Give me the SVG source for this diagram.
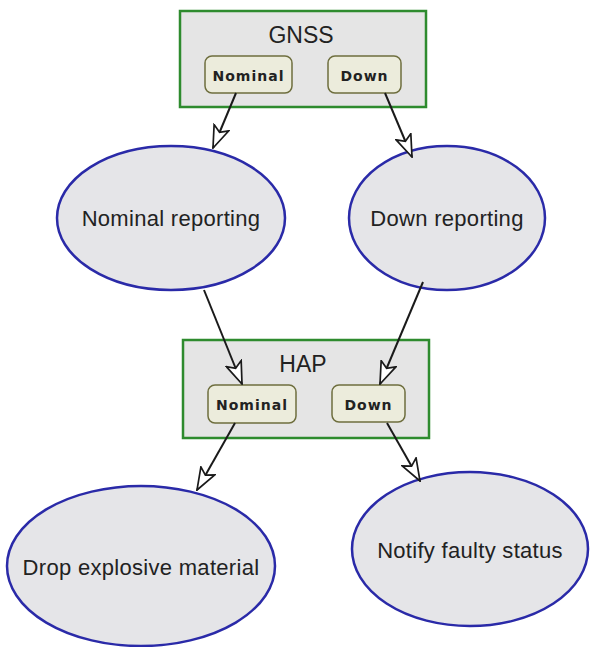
<svg xmlns="http://www.w3.org/2000/svg" width="595" height="647" viewBox="0 0 595 647">
<defs>
<style>
.comp{fill:#e5e5e5;stroke:#2e8b2e;stroke-width:2.5}
.port{fill:#ececdc;stroke:#6e6e3e;stroke-width:1.5}
.state{fill:#e5e5e8;stroke:#2a2aa8;stroke-width:2.5}
.title{font-family:"Liberation Sans",Arial,sans-serif;font-size:23px;fill:#222;text-anchor:middle}
.pl{font-family:"DejaVu Sans",sans-serif;font-size:14px;font-weight:bold;fill:#222;text-anchor:middle;letter-spacing:1px}
.sl{font-family:"Liberation Sans",Arial,sans-serif;font-size:22px;fill:#222;text-anchor:middle;letter-spacing:0.3px}
.edge{stroke:#1a1a1a;stroke-width:2;fill:none;marker-end:url(#ah)}
</style>
<marker id="ah" viewBox="0 0 24 18" refX="23" refY="9" markerWidth="24" markerHeight="18" markerUnits="userSpaceOnUse" orient="auto">
<path d="M1,1 L23,9 L1,17 L6,9 Z" fill="#fff" stroke="#1a1a1a" stroke-width="1.7" stroke-linejoin="miter"/>
</marker>
</defs>
<rect width="595" height="647" fill="#fff"/>
<g id="gnss">
<rect class="comp" x="180" y="11" width="246" height="96"/>
<text class="title" x="301" y="43">GNSS</text>
<g id="gnss-nominal"><rect class="port" x="205" y="56" width="87" height="37" rx="7"/><text class="pl" x="248.5" y="81">Nominal</text></g>
<g id="gnss-down"><rect class="port" x="328" y="56" width="73" height="37" rx="7"/><text class="pl" x="364.5" y="81">Down</text></g>
</g>
<g id="hap">
<rect class="comp" x="183" y="340" width="246" height="98"/>
<text class="title" x="303" y="372">HAP</text>
<g id="hap-nominal"><rect class="port" x="208" y="385" width="88" height="38" rx="7"/><text class="pl" x="252" y="410">Nominal</text></g>
<g id="hap-down"><rect class="port" x="332" y="385" width="73" height="37" rx="7"/><text class="pl" x="368.5" y="410">Down</text></g>
</g>
<g id="nominal-reporting">
<ellipse class="state" cx="171" cy="218" rx="114" ry="72"/>
<text class="sl" x="171" y="226">Nominal reporting</text>
</g>
<g id="down-reporting">
<ellipse class="state" cx="447" cy="218" rx="98" ry="72"/>
<text class="sl" x="447" y="226">Down reporting</text>
</g>
<g id="drop-explosive">
<ellipse class="state" cx="141" cy="566" rx="134" ry="80"/>
<text class="sl" x="141" y="575">Drop explosive material</text>
</g>
<g id="notify-faulty">
<ellipse class="state" cx="470" cy="549" rx="118" ry="77"/>
<text class="sl" x="470" y="558">Notify faulty status</text>
</g>
<g id="connectors">
<line class="edge" x1="236" y1="93" x2="213" y2="148"/>
<line class="edge" x1="385" y1="93" x2="412" y2="157"/>
<line class="edge" x1="204" y1="290" x2="242" y2="384"/>
<line class="edge" x1="423" y1="282" x2="380" y2="384"/>
<line class="edge" x1="235" y1="423" x2="197" y2="490"/>
<line class="edge" x1="387" y1="423" x2="420" y2="481"/>
</g>
</svg>
